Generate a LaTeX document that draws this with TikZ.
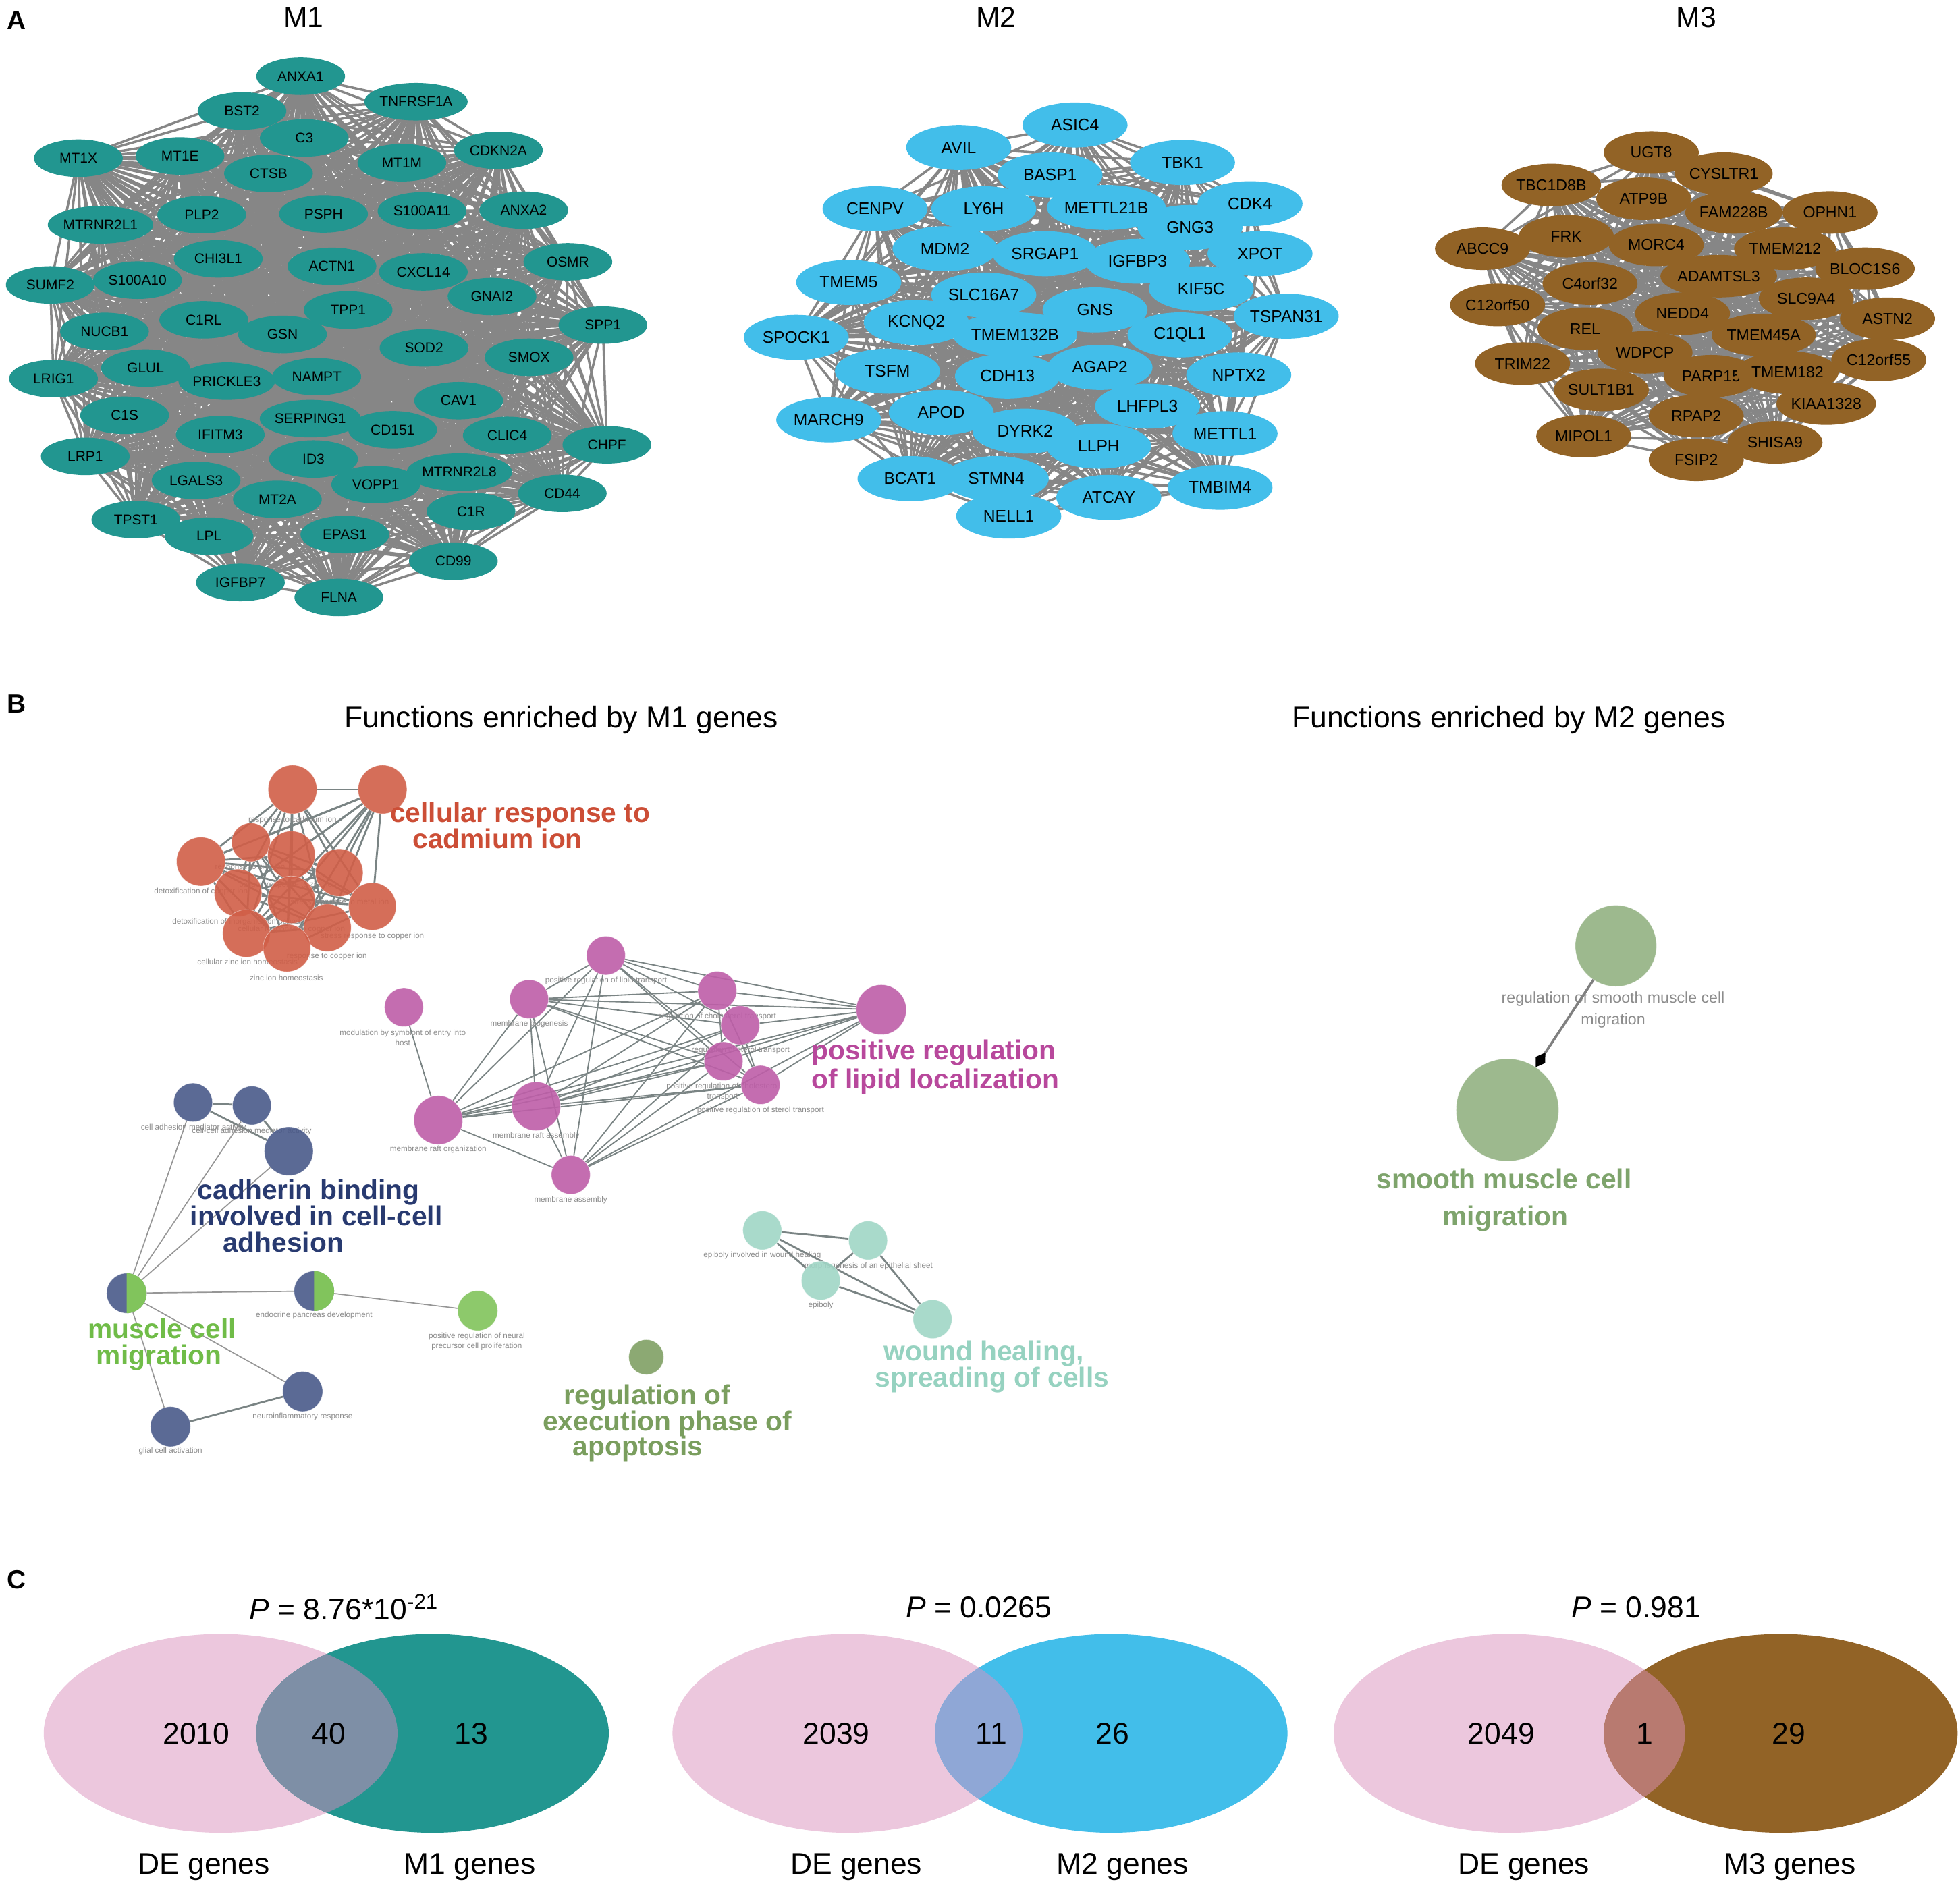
\documentclass[tikz,border=0pt]{standalone}
\usepackage{fontspec}
\setmainfont{Liberation Sans}
\usetikzlibrary{shapes.geometric,arrows.meta}
\pgfdeclarelayer{bg}
\pgfdeclarelayer{mid}
\pgfsetlayers{bg,mid,main}
\definecolor{mAcol}{RGB}{34,150,144}
\definecolor{mBcol}{RGB}{66,190,234}
\definecolor{mCcol}{RGB}{146,99,38}
\definecolor{netgray}{RGB}{134,134,134}
\definecolor{egray}{RGB}{122,132,132}
\definecolor{tgray}{RGB}{150,150,150}
\definecolor{labgray}{RGB}{140,140,140}
\definecolor{redc}{RGB}{209,95,72}
\definecolor{redt}{RGB}{204,78,54}
\definecolor{purc}{RGB}{190,94,168}
\definecolor{purt}{RGB}{184,72,156}
\definecolor{navc}{RGB}{74,90,138}
\definecolor{navt}{RGB}{40,58,112}
\definecolor{grnc}{RGB}{129,196,92}
\definecolor{grnt}{RGB}{112,188,72}
\definecolor{olvc}{RGB}{128,160,100}
\definecolor{olvt}{RGB}{122,158,94}
\definecolor{cyac}{RGB}{160,214,198}
\definecolor{cyat}{RGB}{150,210,192}
\definecolor{smc}{RGB}{147,178,130}
\definecolor{smt}{RGB}{126,164,108}
\definecolor{pinkv}{RGB}{236,199,221}
\definecolor{ovA}{RGB}{126,143,166}
\definecolor{ovB}{RGB}{143,167,214}
\definecolor{ovC}{RGB}{184,122,112}
\newcommand{\setfs}[1]{\fontsize{#1}{#1}\selectfont}
\def\listA{ANXA1/240.5/61, TNFRSF1A/332.8/81.4, BST2/193.6/88.8, C3/243.4/110.4, MT1X/62.7/126.6, MT1E/144/124.8, CTSB/214.8/138.8, MT1M/321.5/130.2, CDKN2A/398.7/120.3, PLP2/161.4/171.8, PSPH/258.8/171.2, S100A11/337.6/168.8, ANXA2/419/168.2, MTRNR2L1/80.4/179.9, CHI3L1/174.6/207.1, ACTN1/265.6/213.1, CXCL14/338.6/217.6, OSMR/454.3/209.5, SUMF2/40.2/228, S100A10/110/224.2, GNAI2/393.6/237.3, C1RL/163/255.9, TPP1/278.5/248.1, GSN/226/267.6, SPP1/482.3/260.1, NUCB1/83.6/265.2, SOD2/339.2/278.4, SMOX/423.2/285.9, LRIG1/42.8/303, GLUL/116.4/294.5, PRICKLE3/181.4/305, NAMPT/253.4/301.4, CAV1/366.9/320.6, C1S/99.7/332.3, SERPING1/248.2/335, CD151/314.1/343.9, CLIC4/405.8/348.4, IFITM3/176.2/347.8, CHPF/485.5/355.9, LRP1/68.2/365.2, ID3/250.8/367.3, MTRNR2L8/367.5/377.8, LGALS3/156.9/384.4, VOPP1/300.6/387.7, C1R/376.8/409.2, CD44/449.8/394.8, TPST1/108.7/415.8, MT2A/221.9/399.6, LPL/167.2/429, EPAS1/275.9/427.8, CD99/362.7/449, IGFBP7/192.3/466.1, FLNA/271.1/478.1}
\def\listB{ASIC4/860/100, AVIL/767/118, TBK1/946/130, BASP1/840/140, CENPV/700/167, LY6H/787/167, METTL21B/885/166, CDK4/1000/163, GNG3/952/182, MDM2/756/199, SRGAP1/836/203, IGFBP3/910/209, XPOT/1008/203, TMEM5/679/226, KIF5C/961/231, SLC16A7/787/236, GNS/876/248, TSPAN31/1029/253, SPOCK1/637/270, KCNQ2/733/258, TMEM132B/812/268, C1QL1/944/268, AGAP2/880/294, NPTX2/991/300, TSFM/710/297, CDH13/806/301, LHFPL3/918/325, MARCH9/663/336, APOD/753/330, DYRK2/820/345, LLPH/879/357, METTL1/980/347, BCAT1/728/383, STMN4/797/383, ATCAY/887/398, TMBIM4/976/390, NELL1/807/413}
\def\listC{UGT8/1321/122, CYSLTR1/1379/139, TBC1D8B/1241/148, ATP9B/1315/159, OPHN1/1464/170, FAM228B/1387/170, FRK/1253/189, MORC4/1325/196, ABCC9/1186/199, TMEM212/1428/199, BLOC1S6/1492/215, ADAMTSL3/1375/221, C4orf32/1272/227, C12orf50/1198/244, SLC9A4/1445/239, NEDD4/1346/251, ASTN2/1510/255, REL/1268/263, TMEM45A/1411/268, WDPCP/1316/282, C12orf55/1503/288, TRIM22/1218/291, PARP15/1369/301, TMEM182/1430/298, SULT1B1/1281/312, KIAA1328/1461/323, RPAP2/1357/333, MIPOL1/1267/349, SHISA9/1420/354, FSIP2/1357/368}
\begin{document}
\begin{tikzpicture}[x=1pt,y=-1pt,
  gA/.style={ellipse,fill=mAcol,minimum width=71pt,minimum height=30pt,inner sep=0pt,font=\setfs{11.3}},
  gB/.style={ellipse,fill=mBcol,minimum width=84pt,minimum height=36pt,inner sep=0pt,font=\setfs{13.3}},
  gC/.style={ellipse,fill=mCcol,minimum width=76pt,minimum height=34pt,inner sep=0pt,font=\setfs{12.5}},
  net/.style={draw=netgray,line width=1.9pt},
  fnode/.style={circle,inner sep=0pt,outer sep=0pt,minimum size=#1,fill opacity=0.9,draw=white,draw opacity=0.5,line width=0.4pt},
  slab/.style={text=labgray,font=\fontsize{6.3}{8.4}\selectfont,inner sep=0pt,align=center},
  blab/.style={font=\fontsize{22}{22}\selectfont\bfseries,inner sep=0pt,anchor=base west},
  eth/.style={draw=egray,line width=1.5pt},
  emd/.style={draw=egray,line width=1pt},
  etn/.style={draw=tgray,line width=0.9pt},
  panel/.style={font=\fontsize{21}{21}\selectfont\bfseries,inner sep=0pt},
  ttl/.style={font=\setfs{23},inner sep=0pt},
  big/.style={font=\setfs{24},inner sep=0pt}
]
\useasboundingbox (0,0) rectangle (1568,1512);
\begin{pgfonlayer}{bg}
\fill[white] (0,0) rectangle (1568,1512);
\end{pgfonlayer}

% ---------------- Panel A ----------------
\node[panel] (pA) at (13,16) {A};
\node[ttl] (tM1) at (243,14) {M1};
\node[ttl] (tM2) at (797,14) {M2};
\node[ttl] (tM3) at (1357,14) {M3};

\foreach \n/\x/\y in \listA { \node[gA] (a\n) at (\x,\y) {\n}; }
\foreach \n/\x/\y in \listB { \node[gB] (b\n) at (\x,\y) {\n}; }
\foreach \n/\x/\y in \listC { \node[gC] (c\n) at (\x,\y) {\n}; }

\begin{pgfonlayer}{bg}
\foreach \n/\x/\y [count=\i] in \listA {
  \foreach \m/\u/\v [count=\j] in \listA {
    \ifnum\j>\i \draw[net] (a\n.center) -- (a\m.center); \fi
  }
}
\foreach \n/\x/\y [count=\i] in \listB {
  \foreach \m/\u/\v [count=\j] in \listB {
    \ifnum\j>\i \draw[net] (b\n.center) -- (b\m.center); \fi
  }
}
\foreach \n/\x/\y [count=\i] in \listC {
  \foreach \m/\u/\v [count=\j] in \listC {
    \ifnum\j>\i \draw[net] (c\n.center) -- (c\m.center); \fi
  }
}
\end{pgfonlayer}

% ---------------- Panel B ----------------
\node[panel] (pB) at (13,563) {B};
\node[big] (tF1) at (449,576) {Functions enriched by M1 genes};
\node[big] (tF2) at (1207,576) {Functions enriched by M2 genes};

% red cluster
\node[fnode=39,fill=redc] (R1) at (234,631.7) {};
\node[fnode=39,fill=redc] (R2) at (306,631.7) {};
\node[fnode=31,fill=redc] (R3) at (200.7,674) {};
\node[fnode=38,fill=redc] (R4) at (233.1,684) {};
\node[fnode=39,fill=redc] (R5) at (160.7,689.4) {};
\node[fnode=38,fill=redc] (R6) at (271.4,698.3) {};
\node[fnode=38,fill=redc] (R7) at (190.4,714.5) {};
\node[fnode=38,fill=redc] (R8) at (233.1,720) {};
\node[fnode=38,fill=redc] (R9) at (297.9,725.3) {};
\node[fnode=38,fill=redc] (R10) at (261.9,742.4) {};
\node[fnode=38,fill=redc] (R11) at (197.1,746.9) {};
\node[fnode=38,fill=redc] (R12) at (229.5,758.6) {};
\begin{pgfonlayer}{bg}
\foreach \a [count=\i] in {R1,R2,R3,R4,R5,R6,R7,R8,R9,R10,R11,R12} {
  \foreach \b [count=\j] in {R1,R2,R3,R4,R5,R6,R7,R8,R9,R10,R11,R12} {
    \ifnum\j>\i \draw[eth] (\a) -- (\b); \fi
  }
}
\end{pgfonlayer}
\begin{pgfonlayer}{mid}
\node[slab] (lr1) at (234,656.4) {response to cadmium ion};
\node[slab] (lr2) at (200.1,694.2) {response to zinc ion};
\node[slab] (lr3) at (230.4,707.9) {cellular response to zinc ion};
\node[slab] (lr4) at (160.8,713.6) {detoxification of copper ion};
\node[slab] (lr5) at (271.8,722.3) {stress response to metal ion};
\node[slab] (lr6) at (189,738) {detoxification of inorganic compound};
\node[slab] (lr7) at (233.1,743.7) {cellular response to copper ion};
\node[slab] (lr8) at (297.9,749.3) {stress response to copper ion};
\node[slab] (lr9) at (261.5,765.5) {response to copper ion};
\node[slab] (lr10) at (198,769.8) {cellular zinc ion homeostasis};
\node[slab] (lr11) at (229.1,782.4) {zinc ion homeostasis};
\end{pgfonlayer}
\node[blab,text=redt] (Tr1) at (312,658) {cellular response to};
\node[blab,text=redt] (Tr2) at (330,679) {cadmium ion};

% purple cluster
\node[fnode=31,fill=purc] (Pmod) at (323.1,806) {};
\node[fnode=31,fill=purc] (Pmb) at (423.3,799.5) {};
\node[fnode=39,fill=purc] (Pmro) at (350.6,896.3) {};
\node[fnode=39,fill=purc] (Pmra) at (428.9,885.2) {};
\node[fnode=31,fill=purc] (Pma) at (456.6,940.1) {};
\node[fnode=31,fill=purc] (Pprlt) at (484.7,764.6) {};
\node[fnode=31,fill=purc] (Prct) at (573.8,792.8) {};
\node[fnode=31,fill=purc] (Prst) at (592.2,820.4) {};
\node[fnode=31,fill=purc] (Pprct) at (578.8,849.2) {};
\node[fnode=31,fill=purc] (Pprst) at (608.4,868.1) {};
\node[fnode=40,fill=purc] (Pbig) at (705,808) {};
\begin{pgfonlayer}{bg}
\draw[emd] (Pmod) -- (Pmro);
\foreach \a [count=\i] in {Pmb,Pmro,Pmra,Pma,Pprlt,Prct,Prst,Pprct,Pprst,Pbig} {
  \foreach \b [count=\j] in {Pmb,Pmro,Pmra,Pma,Pprlt,Prct,Prst,Pprct,Pprst,Pbig} {
    \ifnum\j>\i \draw[emd] (\a) -- (\b); \fi
  }
}
\end{pgfonlayer}
\begin{pgfonlayer}{mid}
\node[slab] (lp1) at (322.2,830.3) {modulation by symbiont of entry into\\host};
\node[slab] (lp2) at (423.3,819.5) {membrane biogenesis};
\node[slab] (lp3) at (350.6,919.7) {membrane raft organization};
\node[slab] (lp4) at (428.9,908.9) {membrane raft assembly};
\node[slab] (lp5) at (456.6,960.2) {membrane assembly};
\node[slab] (lp6) at (484.9,784.7) {positive regulation of lipid transport};
\node[slab] (lp7) at (574.1,813.2) {regulation of cholesterol transport};
\node[slab] (lp8) at (592.5,840.5) {regulation of sterol transport};
\node[slab] (lp9) at (578.1,873.6) {positive regulation of cholesterol\\transport};
\node[slab] (lp10) at (608.4,888.2) {positive regulation of sterol transport};
\end{pgfonlayer}
\node[blab,text=purt] (Tp1) at (649,848) {positive regulation};
\node[blab,text=purt] (Tp2) at (649,871) {of lipid localization};

% navy / green cluster
\node[fnode=31,fill=navc] (B1) at (154.4,882.2) {};
\node[fnode=31,fill=navc] (B2) at (201.5,884.6) {};
\node[fnode=39,fill=navc] (B3) at (231,921.2) {};
\node[fnode=32,fill=navc] (H1) at (101.3,1034.8) {};
\fill[grnc] (H1.north) arc[start angle=90,end angle=-90,radius=16pt] -- cycle;
\node[fnode=32,fill=navc] (H2) at (251.3,1033.1) {};
\fill[grnc] (H2.north) arc[start angle=90,end angle=-90,radius=16pt] -- cycle;
\node[fnode=32,fill=grnc] (G1) at (382.1,1048.8) {};
\node[fnode=32,fill=navc] (B4) at (242.1,1113.5) {};
\node[fnode=32,fill=navc] (B5) at (136.4,1141.6) {};
\begin{pgfonlayer}{bg}
\draw[eth] (B1) -- (B2);
\draw[eth] (B1) -- (B3);
\draw[eth] (B2) -- (B3);
\draw[eth] (B4) -- (B5);
\draw[etn] (H1) -- (B1);
\draw[etn] (H1) -- (B2);
\draw[etn] (H1) -- (B3);
\draw[etn] (H1) -- (H2);
\draw[etn] (H2) -- (G1);
\draw[etn] (H1) -- (B4);
\draw[etn] (H1) -- (B5);
\end{pgfonlayer}
\begin{pgfonlayer}{mid}
\node[slab] (lb1) at (154.8,902.3) {cell adhesion mediator activity};
\node[slab] (lb2) at (201.4,905) {cell-cell adhesion mediator activity};
\node[slab] (lb3) at (251.3,1052.8) {endocrine pancreas development};
\node[slab] (lb4) at (381.4,1073.5) {positive regulation of neural\\precursor cell proliferation};
\node[slab] (lb5) at (242.1,1133.5) {neuroinflammatory response};
\node[slab] (lb6) at (136.4,1161.2) {glial cell activation};
\end{pgfonlayer}
\node[blab,text=navt] (Tn1) at (158,960) {cadherin binding};
\node[blab,text=navt] (Tn2) at (152,981) {involved in cell-cell};
\node[blab,text=navt] (Tn3) at (178,1002) {adhesion};
\node[blab,text=grnt] (Tg1) at (70,1071) {muscle cell};
\node[blab,text=grnt] (Tg2) at (77,1092) {migration};

% olive
\node[fnode=28,fill=olvc] (O1) at (517,1086) {};
\node[blab,text=olvt] (To1) at (451,1124) {regulation of};
\node[blab,text=olvt] (To2) at (434,1145) {execution phase of};
\node[blab,text=olvt] (To3) at (458,1165) {apoptosis};

% cyan cluster
\node[fnode=31,fill=cyac] (C1) at (609.8,984.5) {};
\node[fnode=31,fill=cyac] (C2) at (694.4,992.6) {};
\node[fnode=31,fill=cyac] (C3) at (656.6,1024.7) {};
\node[fnode=31,fill=cyac] (C4) at (746,1055.6) {};
\begin{pgfonlayer}{bg}
\draw[eth] (C1) -- (C2);
\draw[eth] (C1) -- (C3);
\draw[eth] (C1) -- (C4);
\draw[eth] (C2) -- (C3);
\draw[eth] (C2) -- (C4);
\draw[eth] (C3) -- (C4);
\end{pgfonlayer}
\begin{pgfonlayer}{mid}
\node[slab] (lc1) at (609.8,1004.7) {epiboly involved in wound healing};
\node[slab] (lc2) at (694.8,1013) {morphogenesis of an epithelial sheet};
\node[slab] (lc3) at (656.6,1044.4) {epiboly};
\end{pgfonlayer}
\node[blab,text=cyat] (Tc1) at (707,1089) {wound healing,};
\node[blab,text=cyat] (Tc2) at (700,1110) {spreading of cells};

% M2 functions
\node[fnode=65,fill=smc] (S1) at (1292.7,756.9) {};
\node[fnode=82,fill=smc] (S2) at (1205.9,888.2) {};
\begin{pgfonlayer}{mid}
\node[text=labgray,font=\fontsize{12.5}{17.3}\selectfont,inner sep=0pt,align=center] (ls1) at (1290.5,808) {regulation of smooth muscle cell\\migration};
\end{pgfonlayer}
\draw[draw=gray,line width=2pt,-{Diamond[length=14pt,width=9pt,color=black]}] (S1) -- (S2);
\node[blab,text=smt] (Ts1) at (1101,951) {smooth muscle cell};
\node[blab,text=smt] (Ts2) at (1154,981) {migration};

% ---------------- Panel C ----------------
\node[panel] (pC) at (13,1264) {C};
\node[big] (P1) at (275,1286) {\textit{P} = 8.76*10\textsuperscript{-21}};
\node[big] (P2) at (783,1286) {\textit{P} = 0.0265};
\node[big] (P3) at (1309,1286) {\textit{P} = 0.981};

\fill[pinkv] (176.5,1387) ellipse [x radius=141.5,y radius=79.5];
\fill[mAcol] (346,1387) ellipse [x radius=141,y radius=79.5];
\begin{scope}
\clip (176.5,1387) ellipse [x radius=141.5,y radius=79.5];
\fill[ovA] (346,1387) ellipse [x radius=141,y radius=79.5];
\end{scope}
\fill[pinkv] (678,1387) ellipse [x radius=140,y radius=79.5];
\fill[mBcol] (889,1387) ellipse [x radius=141,y radius=79.5];
\begin{scope}
\clip (678,1387) ellipse [x radius=140,y radius=79.5];
\fill[ovB] (889,1387) ellipse [x radius=141,y radius=79.5];
\end{scope}
\fill[pinkv] (1207.5,1387) ellipse [x radius=140.5,y radius=79.5];
\fill[mCcol] (1424.5,1387) ellipse [x radius=141.5,y radius=79.5];
\begin{scope}
\clip (1207.5,1387) ellipse [x radius=140.5,y radius=79.5];
\fill[ovC] (1424.5,1387) ellipse [x radius=141.5,y radius=79.5];
\end{scope}

\node[big] (n1a) at (157,1387) {2010};
\node[big] (n1b) at (263,1387) {40};
\node[big] (n1c) at (377,1387) {13};
\node[big] (n2a) at (669,1387) {2039};
\node[big] (n2b) at (793,1387) {11};
\node[big] (n2c) at (890,1387) {26};
\node[big] (n3a) at (1201,1387) {2049};
\node[big] (n3b) at (1316,1387) {1};
\node[big] (n3c) at (1431,1387) {29};

\node[big] (g1a) at (163,1494) {DE genes};
\node[big] (g1b) at (376,1494) {M1 genes};
\node[big] (g2a) at (685,1494) {DE genes};
\node[big] (g2b) at (898,1494) {M2 genes};
\node[big] (g3a) at (1219,1494) {DE genes};
\node[big] (g3b) at (1432,1494) {M3 genes};
\end{tikzpicture}
\end{document}
